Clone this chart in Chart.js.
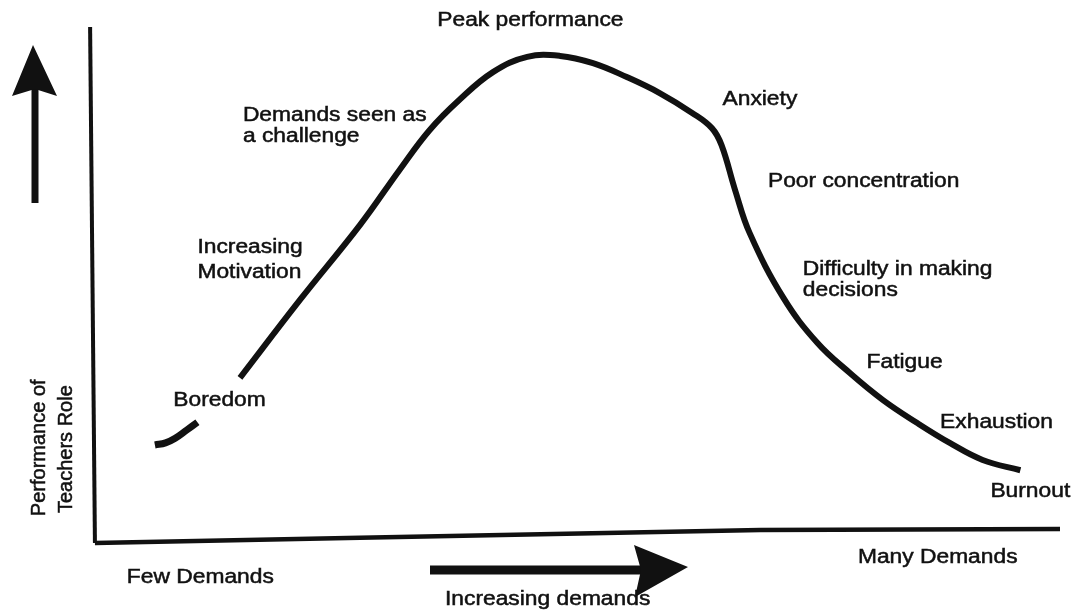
<!DOCTYPE html>
<html>
<head>
<meta charset="utf-8">
<script src="https://cdn.jsdelivr.net/npm/chart.js@4/dist/chart.umd.min.js"></script>
<style>
  html, body { margin: 0; padding: 0; background: #fff; }
  #wrap { width: 1075px; height: 612px; position: relative; }
</style>
</head>
<body>
<div id="wrap"><canvas id="curve"></canvas></div>
<script>
// demand (0-100) vs performance (0-100)
const boredomX = [6.4, 7.5, 8.5, 9.7, 10.8];
const boredomY = [19.0, 19.4, 20.3, 21.9, 23.4];

const curveX = [15.2, 21.4, 27.6, 31.7, 34.8, 37.9, 41.4, 44.9, 48.3, 51.7, 55.2, 58.6, 62.0, 64.0, 65.0, 66.4, 67.9, 71.4, 74.9, 78.3, 81.7, 85.2, 88.6, 92.0, 95.9];
const curveY = [32.0, 47.1, 61.6, 72.3, 80.0, 85.9, 91.3, 94.2, 94.4, 93.0, 90.3, 87.2, 83.3, 80.4, 77.1, 68.4, 60.1, 47.5, 38.8, 32.9, 27.7, 23.3, 19.4, 16.1, 14.1];

// hand-drawn axes (slightly off square)
const yAxisX = [-0.3, 0.2];
const yAxisY = [100, 0];
const xAxisX = [0.2, 27.6, 69.0, 100];
const xAxisY = [0, 1.0, 2.5, 2.7];

// stage labels: text, anchor (left, baseline) in chart units
const notes = [
  ['Peak performance', 35.6, 100.2],
  ['Demands seen as', 15.5, 81.8],
  ['a challenge', 15.5, 77.7],
  ['Increasing', 10.8, 56.2],
  ['Motivation', 10.8, 51.4],
  ['Boredom', 8.3, 26.6],
  ['Anxiety', 65.1, 84.9],
  ['Poor concentration', 69.8, 69.0],
  ['Difficulty in making', 73.4, 51.9],
  ['decisions', 73.4, 47.9],
  ['Fatigue', 80.0, 33.9],
  ['Exhaustion', 87.6, 22.3],
  ['Burnout', 92.8, 8.9],
  ['Many Demands', 79.1, -3.9],
  ['Few Demands', 3.5, -7.8],
  ['Increasing demands', 36.4, -12.0]
];
const sideNotes = [
  ['Performance of', -5.0, 5.2],
  ['Teachers Role', -2.2, 5.8]
];

const pts = (xs, ys) => xs.map((x, i) => ({ x, y: ys[i] }));

const INK = '#111';
const FONT = '20px "Liberation Sans", Arial, sans-serif';

function inkText(ctx, t) {
  ctx.fillText(t, 0, 0);
  ctx.strokeText(t, 0, 0);
}

const decor = {
  id: 'decor',
  afterDatasetsDraw(chart) {
    const { ctx, chartArea: ca, scales } = chart;
    const sx = scales.x, sy = scales.y;
    ctx.save();
    ctx.fillStyle = INK;
    ctx.strokeStyle = INK;

    // up arrow
    ctx.lineWidth = 7;
    ctx.beginPath();
    ctx.moveTo(ca.left - 58, ca.top + 176);
    ctx.lineTo(ca.left - 58, ca.top + 62);
    ctx.stroke();
    ctx.beginPath();
    ctx.moveTo(ca.left - 60, ca.top + 18);
    ctx.lineTo(ca.left - 36, ca.top + 69);
    ctx.lineTo(ca.left - 58, ca.top + 62);
    ctx.lineTo(ca.left - 81, ca.top + 69);
    ctx.closePath();
    ctx.fill();

    // right arrow
    ctx.lineWidth = 9;
    ctx.beginPath();
    ctx.moveTo(ca.left + 337, ca.bottom + 27);
    ctx.lineTo(ca.left + 550, ca.bottom + 27);
    ctx.stroke();
    ctx.beginPath();
    ctx.moveTo(ca.left + 595, ca.bottom + 24);
    ctx.lineTo(ca.left + 542, ca.bottom + 54);
    ctx.lineTo(ca.left + 548, ca.bottom + 27);
    ctx.lineTo(ca.left + 541, ca.bottom + 2);
    ctx.closePath();
    ctx.fill();

    // labels
    ctx.font = FONT;
    ctx.lineWidth = 0.5;
    ctx.textAlign = 'left';
    ctx.textBaseline = 'alphabetic';
    notes.forEach(([t, x, y]) => {
      ctx.save();
      ctx.translate(sx.getPixelForValue(x), sy.getPixelForValue(y));
      ctx.scale(1.14, 1);
      inkText(ctx, t);
      ctx.restore();
    });
    sideNotes.forEach(([t, x, y]) => {
      ctx.save();
      ctx.translate(sx.getPixelForValue(x), sy.getPixelForValue(y));
      ctx.rotate(-Math.PI / 2);
      inkText(ctx, t);
      ctx.restore();
    });
    ctx.restore();
  }
};

new Chart(document.getElementById('curve'), {
  type: 'scatter',
  data: {
    datasets: [
      { data: pts(yAxisX, yAxisY), showLine: true, borderColor: INK, borderWidth: 4, pointRadius: 0, tension: 0, clip: false },
      { data: pts(xAxisX, xAxisY), showLine: true, borderColor: INK, borderWidth: 4.5, pointRadius: 0, tension: 0, clip: false },
      { data: pts(boredomX, boredomY), showLine: true, borderColor: INK, borderWidth: 7, pointRadius: 0, tension: 0.4 },
      { data: pts(curveX, curveY), showLine: true, borderColor: INK, borderWidth: 6, pointRadius: 0, tension: 0.4, borderJoinStyle: 'round' }
    ]
  },
  options: {
    responsive: true,
    maintainAspectRatio: false,
    animation: false,
    layout: { padding: { left: 93, right: 15, top: 27, bottom: 69 } },
    plugins: { legend: { display: false }, tooltip: { enabled: false } },
    scales: {
      x: { type: 'linear', min: 0, max: 100, display: false },
      y: { type: 'linear', min: 0, max: 100, display: false }
    }
  },
  plugins: [decor]
});
</script>
</body>
</html>
